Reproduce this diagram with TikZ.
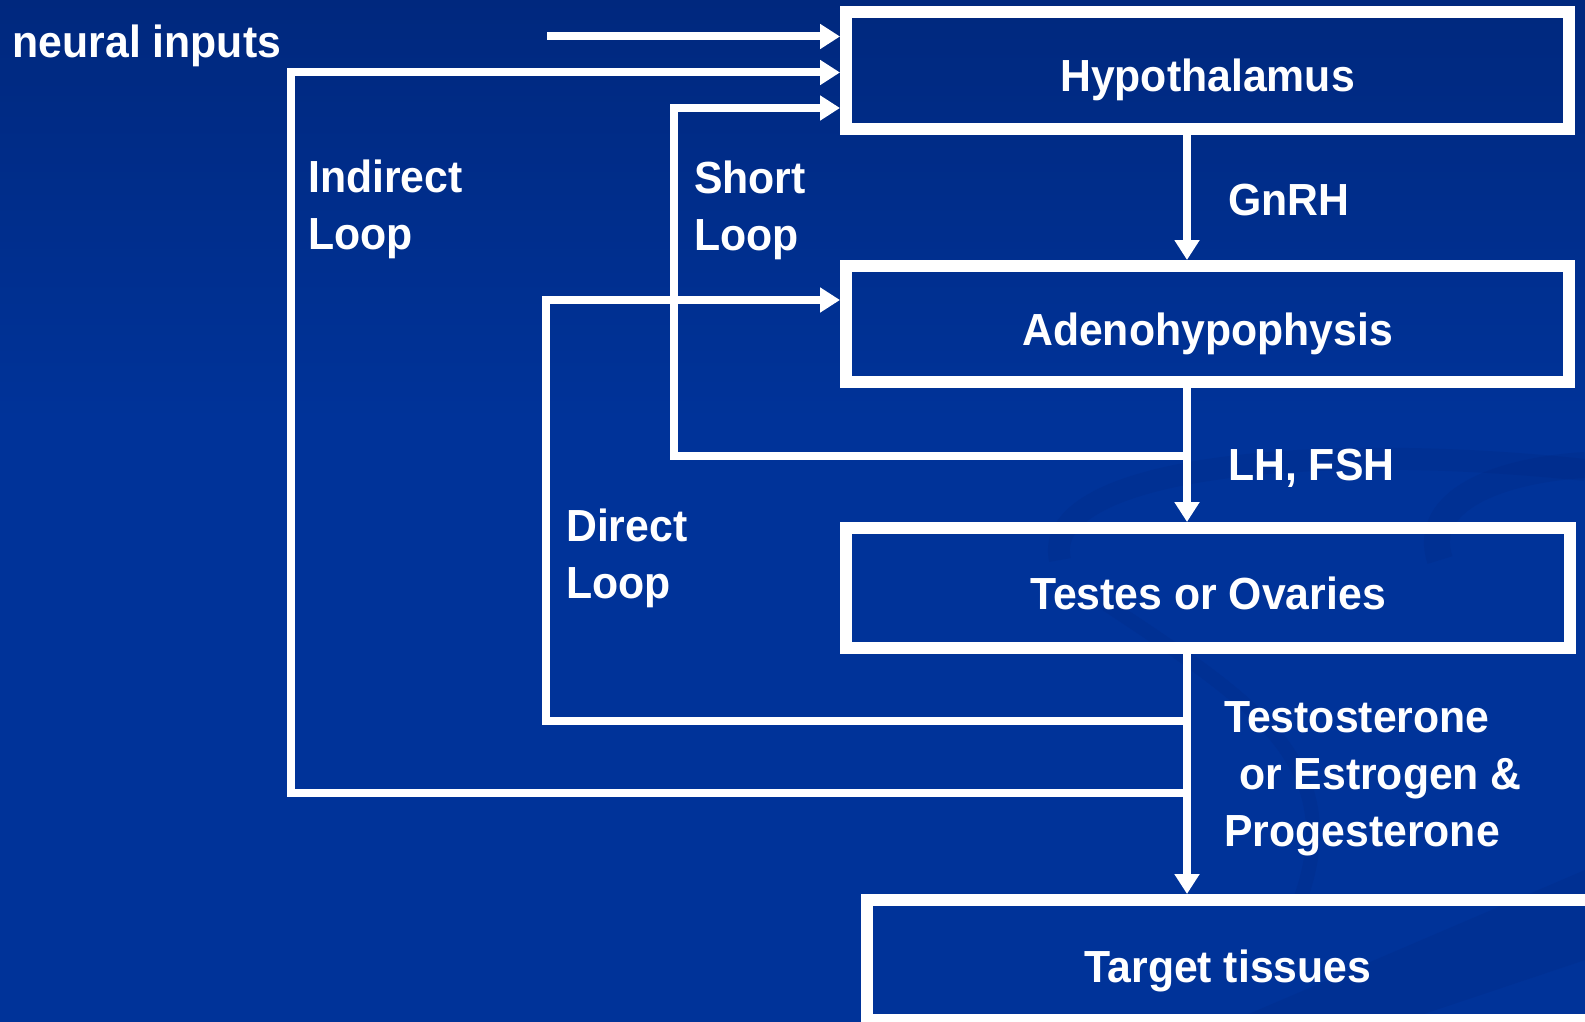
\documentclass[tikz,border=0pt]{standalone}
\usepackage{fontspec}
\setmainfont{Liberation Sans}[FakeStretch=0.95]
\usetikzlibrary{arrows.meta}
\definecolor{bgtop}{RGB}{0,40,126}
\definecolor{bgmain}{RGB}{0,51,153}
\definecolor{swirl}{RGB}{0,40,130}
\begin{document}
\begin{tikzpicture}[x=1pt,y=-1pt,
  txt/.style={text=white, font=\fontsize{45}{57}\selectfont\bfseries},
  box/.style={draw=white, line width=12pt, inner sep=0pt, txt, text height=42pt, text depth=0pt},
  wire/.style={draw=white, line width=8pt, line join=miter},
  arr/.style={wire, -{Triangle[width=24pt,length=20pt]}},
  lbl/.style={txt, inner sep=0pt, anchor=base west}
]
\useasboundingbox (0,0) rectangle (1585,1022);
\clip (0,0) rectangle (1585,1022);
% background
\fill[bgmain] (0,0) rectangle (1585,1022);
\shade[top color=bgtop, bottom color=bgmain] (0,0) rectangle (1585,420);
% faint swirls
\begin{scope}[opacity=0.25]
\draw[swirl, line width=22pt] (1060,560) .. controls (1040,470) and (1300,440) .. (1585,470);
\draw[swirl, line width=14pt] (1100,600) .. controls (1250,700) and (1350,760) .. (1300,900);
\draw[swirl, line width=26pt] (1440,560) .. controls (1420,500) and (1500,470) .. (1585,465);
\fill[swirl] (1230,1022) -- (1585,870) -- (1585,960) -- (1400,1022) -- cycle;
\end{scope}
% boxes
\node[box, minimum width=723pt, minimum height=117.5pt] (hyp) at (1207.5,70.75) {Hypothalamus};
\node[box, minimum width=723pt, minimum height=116pt] (adeno) at (1207.5,324) {Adenohypophysis};
\node[box, minimum width=724pt, minimum height=120pt] (testes) at (1208,588) {Testes or Ovaries};
\node[draw=white, line width=12pt, inner sep=0pt, minimum width=743pt, minimum height=120pt] (tgt) at (1238.5,960) {};
\node[lbl, anchor=base] (tgttext) at (1228,982) {Target tissues};
% main axis
\coordinate (vx) at (1187,0);
\draw[arr] (hyp.south -| vx) -- (adeno.north -| vx);
\draw[arr] (adeno.south -| vx) -- (testes.north -| vx);
\draw[arr] (testes.south -| vx) -- (tgt.north -| vx);
% neural inputs
\coordinate (nin) at (547,36.5);
\draw[arr] (nin) -- (nin -| hyp.west);
% indirect loop
\coordinate (indB) at (291,792.5);
\coordinate (indT) at (291,72.5);
\draw[arr] (indB -| vx) -- (indB) -- (indT) -- (indT -| hyp.west);
% short loop
\coordinate (shB) at (674,456);
\coordinate (shT) at (674,108);
\draw[arr] (shB -| vx) -- (shB) -- (shT) -- (shT -| hyp.west);
% direct loop
\coordinate (drB) at (546,721);
\coordinate (drT) at (546,300);
\draw[arr] (drB -| vx) -- (drB) -- (drT) -- (drT -| adeno.west);
% labels
\node[lbl] (lneural) at (12.5,58) {neural inputs};
\node[lbl] (lgnrh) at (1228,215.5) {GnRH};
\node[lbl] (llh) at (1228,480) {LH, FSH};
\node[lbl] (lt1) at (1224,732) {Testosterone};
\node[lbl] (lt2) at (1239,789) {or Estrogen \&};
\node[lbl] (lt3) at (1224,846.5) {Progesterone};
\node[lbl] (lind1) at (308,192.5) {Indirect};
\node[lbl] (lind2) at (308,249.5) {Loop};
\node[lbl] (lsh1) at (694,193.5) {Short};
\node[lbl] (lsh2) at (694,250.5) {Loop};
\node[lbl] (ldr1) at (566,541) {Direct};
\node[lbl] (ldr2) at (566,598) {Loop};
\end{tikzpicture}
\end{document}
